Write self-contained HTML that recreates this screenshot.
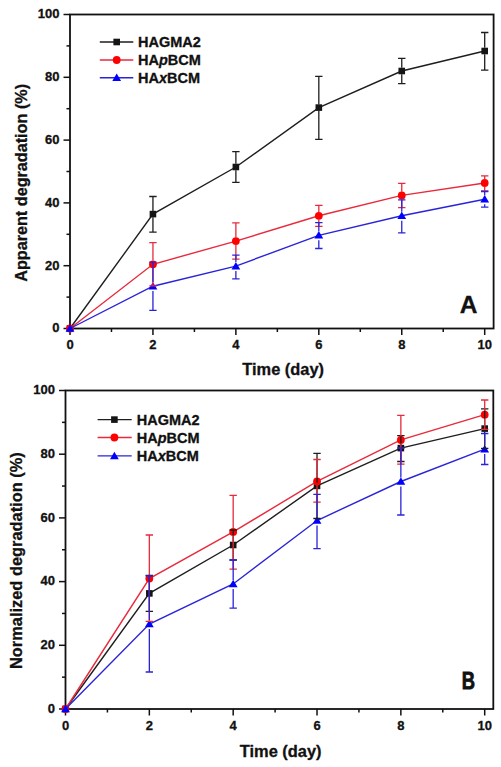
<!DOCTYPE html>
<html><head><meta charset="utf-8"><style>
html,body{margin:0;padding:0;background:#fff;}
body{width:501px;height:767px;overflow:hidden;}
svg{display:block;}
text{font-family:"Liberation Sans",sans-serif;font-weight:bold;fill:#111;stroke:#111;stroke-width:0.3px;}
.t{font-size:13px;}
.at{font-size:16.4px;}
.lg{font-size:14.5px;}
.pl{font-size:24.5px;}
</style></head><body>
<svg width="501" height="767" viewBox="0 0 501 767">
<rect width="501" height="767" fill="#fff"/>
<rect x="70" y="14.5" width="423.6" height="314" fill="none" stroke="#111" stroke-width="1.8"/>
<line x1="63.5" y1="328.5" x2="70" y2="328.5" stroke="#111" stroke-width="1.5"/>
<text x="59.5" y="332.3" text-anchor="end" class="t">0</text>
<line x1="66.5" y1="297.1" x2="70" y2="297.1" stroke="#111" stroke-width="1.5"/>
<line x1="63.5" y1="265.7" x2="70" y2="265.7" stroke="#111" stroke-width="1.5"/>
<text x="59.5" y="269.5" text-anchor="end" class="t">20</text>
<line x1="66.5" y1="234.3" x2="70" y2="234.3" stroke="#111" stroke-width="1.5"/>
<line x1="63.5" y1="202.9" x2="70" y2="202.9" stroke="#111" stroke-width="1.5"/>
<text x="59.5" y="206.7" text-anchor="end" class="t">40</text>
<line x1="66.5" y1="171.5" x2="70" y2="171.5" stroke="#111" stroke-width="1.5"/>
<line x1="63.5" y1="140.1" x2="70" y2="140.1" stroke="#111" stroke-width="1.5"/>
<text x="59.5" y="143.9" text-anchor="end" class="t">60</text>
<line x1="66.5" y1="108.7" x2="70" y2="108.7" stroke="#111" stroke-width="1.5"/>
<line x1="63.5" y1="77.3" x2="70" y2="77.3" stroke="#111" stroke-width="1.5"/>
<text x="59.5" y="81.1" text-anchor="end" class="t">80</text>
<line x1="66.5" y1="45.9" x2="70" y2="45.9" stroke="#111" stroke-width="1.5"/>
<line x1="63.5" y1="14.5" x2="70" y2="14.5" stroke="#111" stroke-width="1.5"/>
<text x="59.5" y="18.3" text-anchor="end" class="t">100</text>
<line x1="70" y1="328.5" x2="70" y2="335" stroke="#111" stroke-width="1.5"/>
<text x="70" y="349.2" text-anchor="middle" class="t">0</text>
<line x1="111.47" y1="328.5" x2="111.47" y2="332" stroke="#111" stroke-width="1.5"/>
<line x1="152.94" y1="328.5" x2="152.94" y2="335" stroke="#111" stroke-width="1.5"/>
<text x="152.94" y="349.2" text-anchor="middle" class="t">2</text>
<line x1="194.41" y1="328.5" x2="194.41" y2="332" stroke="#111" stroke-width="1.5"/>
<line x1="235.88" y1="328.5" x2="235.88" y2="335" stroke="#111" stroke-width="1.5"/>
<text x="235.88" y="349.2" text-anchor="middle" class="t">4</text>
<line x1="277.35" y1="328.5" x2="277.35" y2="332" stroke="#111" stroke-width="1.5"/>
<line x1="318.82" y1="328.5" x2="318.82" y2="335" stroke="#111" stroke-width="1.5"/>
<text x="318.82" y="349.2" text-anchor="middle" class="t">6</text>
<line x1="360.29" y1="328.5" x2="360.29" y2="332" stroke="#111" stroke-width="1.5"/>
<line x1="401.76" y1="328.5" x2="401.76" y2="335" stroke="#111" stroke-width="1.5"/>
<text x="401.76" y="349.2" text-anchor="middle" class="t">8</text>
<line x1="443.23" y1="328.5" x2="443.23" y2="332" stroke="#111" stroke-width="1.5"/>
<line x1="484.7" y1="328.5" x2="484.7" y2="335" stroke="#111" stroke-width="1.5"/>
<text x="484.7" y="349.2" text-anchor="middle" class="t">10</text>
<text x="242.3" y="374.8" class="at">Time (day)</text>
<text transform="translate(26.6,281.8) rotate(-90)" class="at" style="font-size:16.2px">Apparent degradation (%)</text>
<text transform="translate(459.7,313.3) scale(1,1)" class="pl" style="stroke-width:0.3px">A</text>
<path d="M70,328.5 L152.94,214.1 L235.88,167 L318.82,107.6 L401.76,71 L484.7,51" fill="none" stroke="#1e1e1e" stroke-width="1.4"/>
<rect x="66.7" y="325.2" width="6.6" height="6.6" fill="#151515"/>
<rect x="149.64" y="210.8" width="6.6" height="6.6" fill="#151515"/>
<rect x="232.58" y="163.7" width="6.6" height="6.6" fill="#151515"/>
<rect x="315.52" y="104.3" width="6.6" height="6.6" fill="#151515"/>
<rect x="398.46" y="67.7" width="6.6" height="6.6" fill="#151515"/>
<rect x="481.4" y="47.7" width="6.6" height="6.6" fill="#151515"/>
<path d="M70,328.5 L152.94,264.3 L235.88,241.1 L318.82,215.8 L401.76,195.4 L484.7,183" fill="none" stroke="#e82a3c" stroke-width="1.4"/>
<circle cx="70" cy="328.5" r="3.9" fill="#ff0000"/>
<circle cx="152.94" cy="264.3" r="3.9" fill="#ff0000"/>
<circle cx="235.88" cy="241.1" r="3.9" fill="#ff0000"/>
<circle cx="318.82" cy="215.8" r="3.9" fill="#ff0000"/>
<circle cx="401.76" cy="195.4" r="3.9" fill="#ff0000"/>
<circle cx="484.7" cy="183" r="3.9" fill="#ff0000"/>
<path d="M70,328.5 L152.94,286.2 L235.88,266.1 L318.82,235.3 L401.76,215.8 L484.7,199.3" fill="none" stroke="#2a24d8" stroke-width="1.4"/>
<path d="M70,324.3L74.4,331.8L65.6,331.8Z" fill="#0000ff"/>
<path d="M152.94,282L157.34,289.5L148.54,289.5Z" fill="#0000ff"/>
<path d="M235.88,261.9L240.28,269.4L231.48,269.4Z" fill="#0000ff"/>
<path d="M318.82,231.1L323.22,238.6L314.42,238.6Z" fill="#0000ff"/>
<path d="M401.76,211.6L406.16,219.1L397.36,219.1Z" fill="#0000ff"/>
<path d="M484.7,195.1L489.1,202.6L480.3,202.6Z" fill="#0000ff"/>
<path d="M152.94,196.5V210.9M152.94,217.3V232.2M149.24,196.5H156.64M149.24,232.2H156.64" fill="none" stroke="#1e1e1e" stroke-width="1.3"/>
<path d="M235.88,151.6V163.8M235.88,170.2V182.4M232.18,151.6H239.58M232.18,182.4H239.58" fill="none" stroke="#1e1e1e" stroke-width="1.3"/>
<path d="M318.82,76.4V104.4M318.82,110.8V139.4M315.12,76.4H322.52M315.12,139.4H322.52" fill="none" stroke="#1e1e1e" stroke-width="1.3"/>
<path d="M401.76,58.4V67.8M401.76,74.2V83.6M398.06,58.4H405.46M398.06,83.6H405.46" fill="none" stroke="#1e1e1e" stroke-width="1.3"/>
<path d="M484.7,32.5V47.8M484.7,54.2V70.1M481,32.5H488.4M481,70.1H488.4" fill="none" stroke="#1e1e1e" stroke-width="1.3"/>
<path d="M152.94,242.7V260.6M152.94,268V285.9M149.24,242.7H156.64M149.24,285.9H156.64" fill="none" stroke="#e82a3c" stroke-width="1.3"/>
<path d="M235.88,222.8V237.4M235.88,244.8V259.1M232.18,222.8H239.58M232.18,259.1H239.58" fill="none" stroke="#e82a3c" stroke-width="1.3"/>
<path d="M318.82,205.3V212.1M318.82,219.5V226.3M315.12,205.3H322.52M315.12,226.3H322.52" fill="none" stroke="#e82a3c" stroke-width="1.3"/>
<path d="M401.76,183.4V191.7M401.76,199.1V207.7M398.06,183.4H405.46M398.06,207.7H405.46" fill="none" stroke="#e82a3c" stroke-width="1.3"/>
<path d="M484.7,175.8V179.3M484.7,186.7V190.9M481,175.8H488.4M481,190.9H488.4" fill="none" stroke="#e82a3c" stroke-width="1.3"/>
<path d="M152.94,262.1V282.1M152.94,291.1V310.3M149.24,262.1H156.64M149.24,310.3H156.64" fill="none" stroke="#2a24d8" stroke-width="1.3"/>
<path d="M235.88,255.1V262M235.88,271V278.9M232.18,255.1H239.58M232.18,278.9H239.58" fill="none" stroke="#2a24d8" stroke-width="1.3"/>
<path d="M318.82,222.7V231.2M318.82,240.2V248.5M315.12,222.7H322.52M315.12,248.5H322.52" fill="none" stroke="#2a24d8" stroke-width="1.3"/>
<path d="M401.76,199.9V211.7M401.76,220.7V232.9M398.06,199.9H405.46M398.06,232.9H405.46" fill="none" stroke="#2a24d8" stroke-width="1.3"/>
<path d="M484.7,191.5V195.2M484.7,204.2V207.1M481,191.5H488.4M481,207.1H488.4" fill="none" stroke="#2a24d8" stroke-width="1.3"/>
<line x1="99.8" y1="42" x2="133.3" y2="42" stroke="#1e1e1e" stroke-width="1.4"/>
<rect x="113.4" y="38.7" width="6.6" height="6.6" fill="#151515"/>
<text x="138" y="47" class="lg">HAGMA2</text>
<line x1="99.8" y1="60" x2="133.3" y2="60" stroke="#e82a3c" stroke-width="1.4"/>
<circle cx="116.7" cy="60" r="3.9" fill="#ff0000"/>
<text x="138" y="65" class="lg">HA<tspan font-style='italic'>p</tspan>BCM</text>
<line x1="99.8" y1="77.7" x2="133.3" y2="77.7" stroke="#2a24d8" stroke-width="1.4"/>
<path d="M116.7,73.5L121.1,81L112.3,81Z" fill="#0000ff"/>
<text x="138" y="82.7" class="lg">HA<tspan font-style='italic'>x</tspan>BCM</text>
<rect x="65.5" y="390.5" width="427.8" height="318.5" fill="none" stroke="#111" stroke-width="1.8"/>
<line x1="59" y1="709" x2="65.5" y2="709" stroke="#111" stroke-width="1.5"/>
<text x="55" y="712.8" text-anchor="end" class="t">0</text>
<line x1="62" y1="677.15" x2="65.5" y2="677.15" stroke="#111" stroke-width="1.5"/>
<line x1="59" y1="645.3" x2="65.5" y2="645.3" stroke="#111" stroke-width="1.5"/>
<text x="55" y="649.1" text-anchor="end" class="t">20</text>
<line x1="62" y1="613.45" x2="65.5" y2="613.45" stroke="#111" stroke-width="1.5"/>
<line x1="59" y1="581.6" x2="65.5" y2="581.6" stroke="#111" stroke-width="1.5"/>
<text x="55" y="585.4" text-anchor="end" class="t">40</text>
<line x1="62" y1="549.75" x2="65.5" y2="549.75" stroke="#111" stroke-width="1.5"/>
<line x1="59" y1="517.9" x2="65.5" y2="517.9" stroke="#111" stroke-width="1.5"/>
<text x="55" y="521.7" text-anchor="end" class="t">60</text>
<line x1="62" y1="486.05" x2="65.5" y2="486.05" stroke="#111" stroke-width="1.5"/>
<line x1="59" y1="454.2" x2="65.5" y2="454.2" stroke="#111" stroke-width="1.5"/>
<text x="55" y="458" text-anchor="end" class="t">80</text>
<line x1="62" y1="422.35" x2="65.5" y2="422.35" stroke="#111" stroke-width="1.5"/>
<line x1="59" y1="390.5" x2="65.5" y2="390.5" stroke="#111" stroke-width="1.5"/>
<text x="55" y="394.3" text-anchor="end" class="t">100</text>
<line x1="65.5" y1="709" x2="65.5" y2="715.5" stroke="#111" stroke-width="1.5"/>
<text x="65.5" y="730" text-anchor="middle" class="t">0</text>
<line x1="107.42" y1="709" x2="107.42" y2="712.5" stroke="#111" stroke-width="1.5"/>
<line x1="149.34" y1="709" x2="149.34" y2="715.5" stroke="#111" stroke-width="1.5"/>
<text x="149.34" y="730" text-anchor="middle" class="t">2</text>
<line x1="191.26" y1="709" x2="191.26" y2="712.5" stroke="#111" stroke-width="1.5"/>
<line x1="233.18" y1="709" x2="233.18" y2="715.5" stroke="#111" stroke-width="1.5"/>
<text x="233.18" y="730" text-anchor="middle" class="t">4</text>
<line x1="275.1" y1="709" x2="275.1" y2="712.5" stroke="#111" stroke-width="1.5"/>
<line x1="317.02" y1="709" x2="317.02" y2="715.5" stroke="#111" stroke-width="1.5"/>
<text x="317.02" y="730" text-anchor="middle" class="t">6</text>
<line x1="358.94" y1="709" x2="358.94" y2="712.5" stroke="#111" stroke-width="1.5"/>
<line x1="400.86" y1="709" x2="400.86" y2="715.5" stroke="#111" stroke-width="1.5"/>
<text x="400.86" y="730" text-anchor="middle" class="t">8</text>
<line x1="442.78" y1="709" x2="442.78" y2="712.5" stroke="#111" stroke-width="1.5"/>
<line x1="484.7" y1="709" x2="484.7" y2="715.5" stroke="#111" stroke-width="1.5"/>
<text x="484.7" y="730" text-anchor="middle" class="t">10</text>
<text x="239.8" y="757.2" class="at">Time (day)</text>
<text transform="translate(21.7,669) rotate(-90)" class="at" style="font-size:16.4px">Normalized degradation (%)</text>
<text transform="translate(461.8,688.8) scale(0.75,1)" class="pl" style="stroke-width:0.9px">B</text>
<path d="M65.5,709 L149.34,593.4 L233.18,545 L317.02,485.9 L400.86,448.1 L484.7,428.6" fill="none" stroke="#1e1e1e" stroke-width="1.4"/>
<rect x="62.2" y="705.7" width="6.6" height="6.6" fill="#151515"/>
<rect x="146.04" y="590.1" width="6.6" height="6.6" fill="#151515"/>
<rect x="229.88" y="541.7" width="6.6" height="6.6" fill="#151515"/>
<rect x="313.72" y="482.6" width="6.6" height="6.6" fill="#151515"/>
<rect x="397.56" y="444.8" width="6.6" height="6.6" fill="#151515"/>
<rect x="481.4" y="425.3" width="6.6" height="6.6" fill="#151515"/>
<path d="M65.5,709 L149.34,578.6 L233.18,531.9 L317.02,481.4 L400.86,439.9 L484.7,414.7" fill="none" stroke="#e82a3c" stroke-width="1.4"/>
<circle cx="65.5" cy="709" r="3.9" fill="#ff0000"/>
<circle cx="149.34" cy="578.6" r="3.9" fill="#ff0000"/>
<circle cx="233.18" cy="531.9" r="3.9" fill="#ff0000"/>
<circle cx="317.02" cy="481.4" r="3.9" fill="#ff0000"/>
<circle cx="400.86" cy="439.9" r="3.9" fill="#ff0000"/>
<circle cx="484.7" cy="414.7" r="3.9" fill="#ff0000"/>
<path d="M65.5,709 L149.34,624 L233.18,584 L317.02,520.5 L400.86,481.5 L484.7,449.2" fill="none" stroke="#2a24d8" stroke-width="1.4"/>
<path d="M65.5,704.8L69.9,712.3L61.1,712.3Z" fill="#0000ff"/>
<path d="M149.34,619.8L153.74,627.3L144.94,627.3Z" fill="#0000ff"/>
<path d="M233.18,579.8L237.58,587.3L228.78,587.3Z" fill="#0000ff"/>
<path d="M317.02,516.3L321.42,523.8L312.62,523.8Z" fill="#0000ff"/>
<path d="M400.86,477.3L405.26,484.8L396.46,484.8Z" fill="#0000ff"/>
<path d="M484.7,445L489.1,452.5L480.3,452.5Z" fill="#0000ff"/>
<path d="M149.34,575.4V590.2M149.34,596.6V611.4M145.64,575.4H153.04M145.64,611.4H153.04" fill="none" stroke="#1e1e1e" stroke-width="1.3"/>
<path d="M233.18,530V541.8M233.18,548.2V560M229.48,530H236.88M229.48,560H236.88" fill="none" stroke="#1e1e1e" stroke-width="1.3"/>
<path d="M317.02,453.3V482.7M317.02,489.1V518.5M313.32,453.3H320.72M313.32,518.5H320.72" fill="none" stroke="#1e1e1e" stroke-width="1.3"/>
<path d="M400.86,435.7V444.9M400.86,451.3V461.5M397.16,435.7H404.56M397.16,461.5H404.56" fill="none" stroke="#1e1e1e" stroke-width="1.3"/>
<path d="M484.7,408.9V425.4M484.7,431.8V448.3M481,408.9H488.4M481,448.3H488.4" fill="none" stroke="#1e1e1e" stroke-width="1.3"/>
<path d="M149.34,535V574.9M149.34,582.3V621.3M145.64,535H153.04M145.64,621.3H153.04" fill="none" stroke="#e82a3c" stroke-width="1.3"/>
<path d="M233.18,495.3V528.2M233.18,535.6V569.1M229.48,495.3H236.88M229.48,569.1H236.88" fill="none" stroke="#e82a3c" stroke-width="1.3"/>
<path d="M317.02,459.5V477.7M317.02,485.1V502.1M313.32,459.5H320.72M313.32,502.1H320.72" fill="none" stroke="#e82a3c" stroke-width="1.3"/>
<path d="M400.86,415.3V436.2M400.86,443.6V464.1M397.16,415.3H404.56M397.16,464.1H404.56" fill="none" stroke="#e82a3c" stroke-width="1.3"/>
<path d="M484.7,400V411M484.7,418.4V429.4M481,400H488.4M481,429.4H488.4" fill="none" stroke="#e82a3c" stroke-width="1.3"/>
<path d="M149.34,576V619.9M149.34,628.9V672M145.64,576H153.04M145.64,672H153.04" fill="none" stroke="#2a24d8" stroke-width="1.3"/>
<path d="M233.18,560V579.9M233.18,588.9V608.2M229.48,560H236.88M229.48,608.2H236.88" fill="none" stroke="#2a24d8" stroke-width="1.3"/>
<path d="M317.02,494.3V516.4M317.02,525.4V548.6M313.32,494.3H320.72M313.32,548.6H320.72" fill="none" stroke="#2a24d8" stroke-width="1.3"/>
<path d="M400.86,448V477.4M400.86,486.4V515M397.16,448H404.56M397.16,515H404.56" fill="none" stroke="#2a24d8" stroke-width="1.3"/>
<path d="M484.7,433.5V445.1M484.7,454.1V464.5M481,433.5H488.4M481,464.5H488.4" fill="none" stroke="#2a24d8" stroke-width="1.3"/>
<line x1="97.6" y1="419.6" x2="131.7" y2="419.6" stroke="#1e1e1e" stroke-width="1.4"/>
<rect x="111.1" y="416.3" width="6.6" height="6.6" fill="#151515"/>
<text x="136.7" y="424.6" class="lg">HAGMA2</text>
<line x1="97.6" y1="437.5" x2="131.7" y2="437.5" stroke="#e82a3c" stroke-width="1.4"/>
<circle cx="114.4" cy="437.5" r="3.9" fill="#ff0000"/>
<text x="136.7" y="442.5" class="lg">HA<tspan font-style='italic'>p</tspan>BCM</text>
<line x1="97.6" y1="455.9" x2="131.7" y2="455.9" stroke="#2a24d8" stroke-width="1.4"/>
<path d="M114.4,451.7L118.8,459.2L110,459.2Z" fill="#0000ff"/>
<text x="136.7" y="460.9" class="lg">HA<tspan font-style='italic'>x</tspan>BCM</text>
</svg>
</body></html>
